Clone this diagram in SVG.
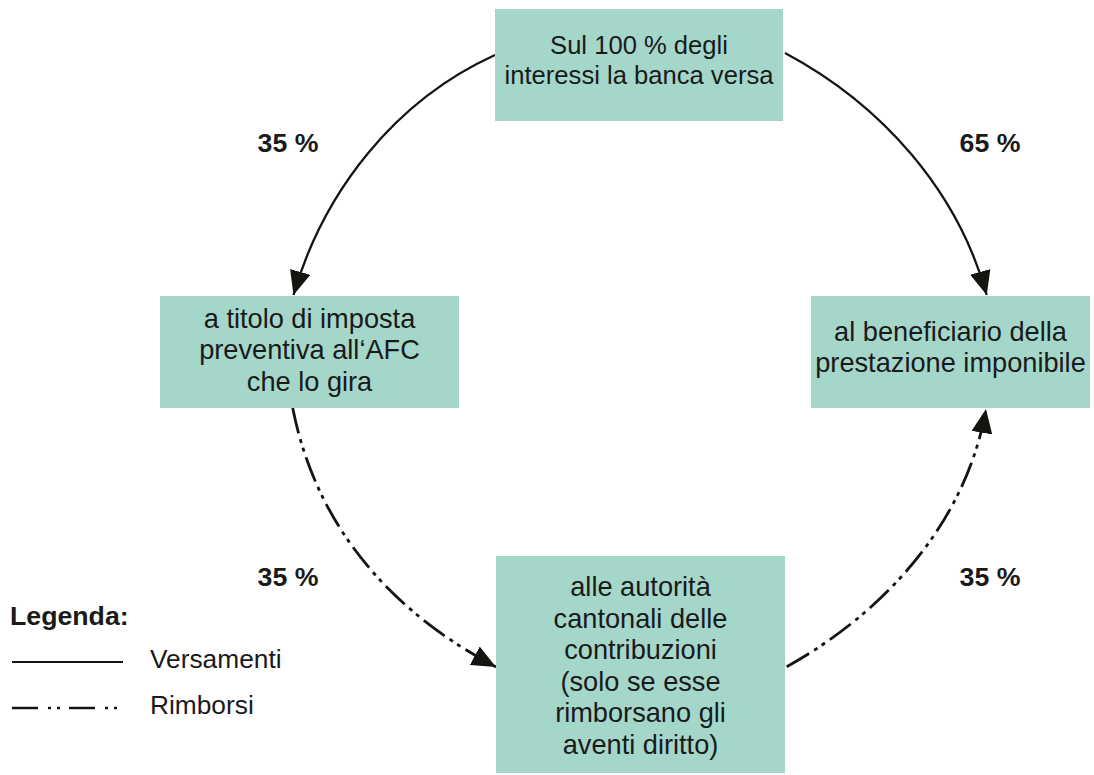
<svg xmlns="http://www.w3.org/2000/svg" width="1094" height="775" viewBox="0 0 1094 775">
<defs>
<style>
.box{fill:#a4d7ca;}
.t{font-family:"Liberation Sans",Arial,Helvetica,sans-serif;font-size:27.2px;fill:#1a1a1a;text-anchor:middle;}
.tt{font-size:25.6px;}
.b{font-family:"Liberation Sans",Arial,Helvetica,sans-serif;font-size:26.7px;font-weight:bold;fill:#1a1a1a;}
.l{font-family:"Liberation Sans",Arial,Helvetica,sans-serif;font-size:26.3px;fill:#1a1a1a;}
.solid{fill:none;stroke:#141410;stroke-width:2.3;}
.dd{fill:none;stroke:#141410;stroke-width:2.8;stroke-dasharray:26 6 4 5 4 6;}
</style>
<marker id="ah" markerUnits="userSpaceOnUse" markerWidth="24" markerHeight="21" refX="24" refY="10.5" orient="auto" viewBox="0 0 24 21">
<path d="M0,0 L24,10.5 L0,21 z" fill="#141410"/>
</marker>
</defs>
<g id="connectors">
<path class="solid" d="M495,55 C395.8,100.1 323.8,190.4 293.5,295" marker-end="url(#ah)"/>
<path class="solid" d="M785,53 C881.1,104.2 957.5,190 986.7,295" marker-end="url(#ah)"/>
<path class="dd" d="M292.7,408 C316,526 390,611 496,667" marker-end="url(#ah)"/>
<path class="dd" d="M786.7,666.7 C886.3,611.3 966.4,521.3 986,409" marker-end="url(#ah)"/>
</g>
<g id="node-top">
<rect class="box" x="495" y="9" width="288" height="112"/>
<text class="t tt" x="639" y="54">Sul 100 % degli</text>
<text class="t tt" x="639" y="84">interessi la banca versa</text>
</g>
<g id="node-left">
<rect class="box" x="160" y="296" width="299" height="112"/>
<text class="t" x="309.5" y="328">a titolo di imposta</text>
<text class="t" x="309.5" y="359">preventiva all‘AFC</text>
<text class="t" x="309.5" y="391">che lo gira</text>
</g>
<g id="node-right">
<rect class="box" x="811" y="296" width="279" height="112"/>
<text class="t" x="950.5" y="341">al beneficiario della</text>
<text class="t" x="950.5" y="372">prestazione imponibile</text>
</g>
<g id="node-bottom">
<rect class="box" x="496" y="556" width="289" height="217"/>
<text class="t" x="640.5" y="596">alle autorità</text>
<text class="t" x="640.5" y="627.6">cantonali delle</text>
<text class="t" x="640.5" y="659.2">contribuzioni</text>
<text class="t" x="640.5" y="690.8">(solo se esse</text>
<text class="t" x="640.5" y="722.4">rimborsano gli</text>
<text class="t" x="640.5" y="754">aventi diritto)</text>
</g>
<g id="labels">
<text class="b" x="288" y="152" text-anchor="middle">35 %</text>
<text class="b" x="990" y="152" text-anchor="middle">65 %</text>
<text class="b" x="288" y="586" text-anchor="middle">35 %</text>
<text class="b" x="990" y="586" text-anchor="middle">35 %</text>
</g>
<g id="legend">
<text class="b" x="10" y="625">Legenda:</text>
<line x1="12" y1="662" x2="123" y2="662" stroke="#141410" stroke-width="2.2"/>
<text class="l" x="150" y="668">Versamenti</text>
<line x1="12" y1="708" x2="123" y2="708" stroke="#141410" stroke-width="2.4" stroke-dasharray="26 10 3 6 3 9"/>
<text class="l" x="150" y="714">Rimborsi</text>
</g>
</svg>
